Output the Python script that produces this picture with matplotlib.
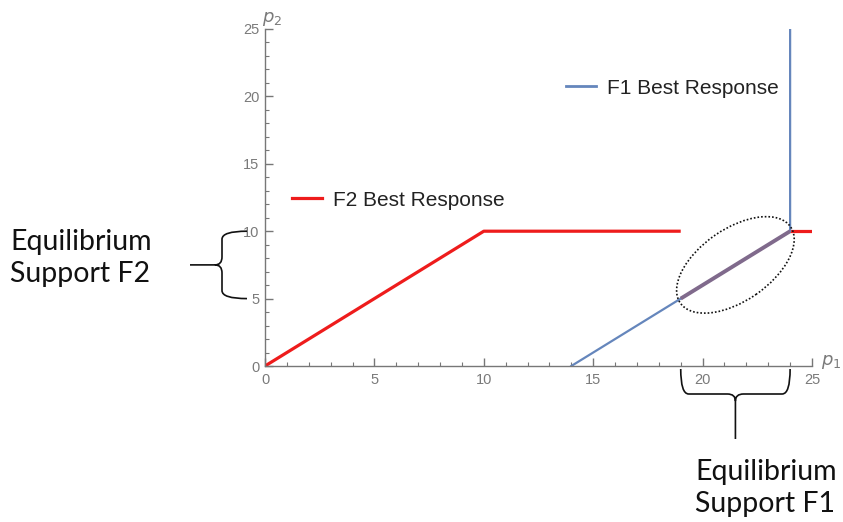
import numpy as np
import matplotlib.pyplot as plt
from matplotlib.path import Path
from matplotlib.patches import PathPatch, Ellipse
from matplotlib.lines import Line2D
from matplotlib.transforms import IdentityTransform

# best response pieces (p1, p2)
f2_x = [0, 10, 19]
f2_y = [0, 10, 10]
f2_tail_x = [24, 25]
f2_tail_y = [10, 10]
f1_x = [14, 24, 24]
f1_y = [0, 10, 25]
overlap_x = [19, 24]
overlap_y = [5, 10]

support_f2 = (5, 10)   # on p2 axis
support_f1 = (19, 24)  # on p1 axis

major_ticks = [0, 5, 10, 15, 20, 25]
minor_ticks = np.arange(0, 26, 1)

RED = '#ee1c1c'
BLUE = '#6586bc'
PURPLE = '#806a8c'
GREY = '#7a7a7a'

fig = plt.figure(figsize=(8.43, 5.22), dpi=100)
ax = fig.add_axes([265 / 843, 1 - 366 / 522, 547 / 843, 337 / 522])

ax.plot(f2_x, f2_y, color=RED, lw=2.3, solid_capstyle='butt')
ax.plot(f2_tail_x, f2_tail_y, color=RED, lw=2.3, solid_capstyle='butt')
ax.plot(f1_x, f1_y, color=BLUE, lw=1.6)
ax.plot(overlap_x, overlap_y, color=PURPLE, lw=2.8, solid_capstyle='butt')

ax.set_xlim(0, 25)
ax.set_ylim(0, 25)
for s in ['top', 'right']:
    ax.spines[s].set_visible(False)
for s in ['left', 'bottom']:
    ax.spines[s].set_color('#777777')
    ax.spines[s].set_linewidth(1.0)

ax.set_xticks(major_ticks)
ax.set_yticks(major_ticks)
ax.set_xticks(minor_ticks, minor=True)
ax.set_yticks(minor_ticks, minor=True)
ax.tick_params(which='major', direction='in', length=6, width=1, color='#777777',
               labelsize=10.5, labelcolor=GREY)
ax.tick_params(which='minor', direction='in', length=3, width=0.8, color='#777777')
ax.tick_params(axis='x', pad=5)
ax.tick_params(axis='y', pad=4)
for lab in ax.get_xticklabels() + ax.get_yticklabels():
    lab.set_family('Liberation Sans')

ax.text(25.4, 0.1, '$p_1$', color=GREY, fontsize=13, clip_on=False)
ax.text(-0.15, 25.5, '$p_2$', color=GREY, fontsize=13, clip_on=False)

# legends
h2 = [Line2D([], [], color=RED, lw=2.3)]
leg2 = ax.legend(h2, ['F2 Best Response'], loc='center left', frameon=False,
                 bbox_to_anchor=(292 / 843, 1 - 200 / 522), bbox_transform=fig.transFigure,
                 prop={'family': 'Liberation Sans', 'size': 15}, handlelength=1.45,
                 handletextpad=0.5, borderpad=0, borderaxespad=0, labelcolor='#222222')
ax.add_artist(leg2)
h1 = [Line2D([], [], color=BLUE, lw=2.0)]
ax.legend(h1, ['F1 Best Response'], loc='center left', frameon=False,
          bbox_to_anchor=(566 / 843, 1 - 88 / 522), bbox_transform=fig.transFigure,
          prop={'family': 'Liberation Sans', 'size': 15}, handlelength=1.45,
          handletextpad=0.5, borderpad=0, borderaxespad=0, labelcolor='#222222')


def brace(p_start, p_end, normal, depth=25, cusp=7, stem=57, r=8):
    # curly brace in pixel coordinates, tips at p_start/p_end, opening away along normal
    a = np.array(p_start, float)
    b = np.array(p_end, float)
    n = np.array(normal, float)
    L = np.linalg.norm(b - a)
    u = (b - a) / L

    def P(s, v):
        return a + u * s + n * v

    m = L / 2
    verts = [P(0, 0), P(0, depth), P(r, depth),
             P(m - r, depth), P(m, depth), P(m, depth + cusp),
             P(m, depth), P(m + r, depth),
             P(L - r, depth), P(L, depth), P(L, 0),
             P(m, depth + cusp), P(m, stem)]
    codes = [Path.MOVETO, Path.CURVE3, Path.CURVE3,
             Path.LINETO, Path.CURVE3, Path.CURVE3,
             Path.CURVE3, Path.CURVE3,
             Path.LINETO, Path.CURVE3, Path.CURVE3,
             Path.MOVETO, Path.LINETO]
    fig.add_artist(PathPatch(Path(verts, codes), fill=False, lw=1.2, ec='#111111',
                             transform=IdentityTransform()))


td = ax.transData
t0 = td.transform((0, support_f2[1]))
t1 = td.transform((0, support_f2[0]))
brace((t0[0] - 18, t0[1]), (t1[0] - 18, t1[1]), (-1, 0), stem=57)
b0 = td.transform((support_f1[0], 0))
b1 = td.transform((support_f1[1], 0))
brace((b0[0], b0[1] - 3), (b1[0], b1[1] - 3), (0, -1), stem=70)

# dotted ellipse around the overlap
c = td.transform((np.mean(overlap_x), np.mean(overlap_y)))
e0 = td.transform((overlap_x[0], overlap_y[0]))
e1 = td.transform((overlap_x[1], overlap_y[1]))
ang = np.degrees(np.arctan2(e1[1] - e0[1], e1[0] - e0[0])) + 3
fig.add_artist(Ellipse(c, 134, 72, angle=ang, fill=False, ls=(0, (1, 1.2)), lw=1.2,
                       ec='#111111', transform=IdentityTransform()))

fig.text(10 / 843, 1 - 258 / 522, 'Equilibrium\nSupport F2', family='Lato', fontsize=20.5,
         va='center', ha='left', linespacing=1.25, color='#111111')
fig.text(695 / 843, 1 - 488 / 522, 'Equilibrium\nSupport F1', family='Lato', fontsize=20.5,
         va='center', ha='left', linespacing=1.25, color='#111111')

fig.savefig('out.png', dpi=100)
